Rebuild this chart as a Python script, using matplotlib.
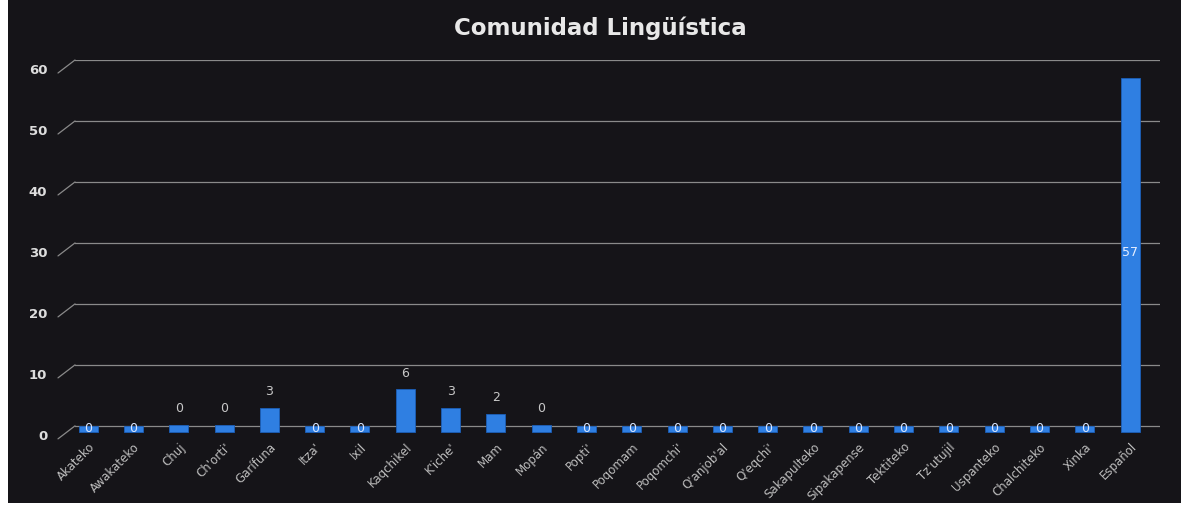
import matplotlib.pyplot as plt
from matplotlib.patches import Rectangle
from matplotlib.transforms import offset_copy

# data
languages = ["Akateko", "Awakateko", "Chuj", "Ch'orti'", "Garífuna", "Itza'", "Ixil",
             "Kaqchikel", "K'iche'", "Mam", "Mopán", "Popti'", "Poqomam", "Poqomchi'",
             "Q'anjob'al", "Q'eqchi'", "Sakapulteko", "Sipakapense", "Tektiteko",
             "Tz'utujil", "Uspanteko", "Chalchiteko", "Xinka", "Español"]
values = [0, 0, 0.2, 0.2, 3, 0, 0, 6, 3, 2, 0.2, 0, 0, 0, 0, 0, 0, 0, 0, 0, 0, 0, 0, 57]
y_ticks = [0, 10, 20, 30, 40, 50, 60]

BG = "#151418"
BAR = "#2f7fe2"
TXT = "#c8c8c8"
FLOOR = -1.0  # 3d floor sits a little under the zero line

fig = plt.figure(figsize=(11.81, 5.08), dpi=100, facecolor="white")
fig.patches.append(Rectangle((8 / 1181, 5 / 508), 1 - 8 / 1181, 1 - 5 / 508,
                             transform=fig.transFigure, facecolor=BG, edgecolor="none", zorder=-10))

ax = fig.add_axes([75 / 1181, (508 - 435) / 508, (1160 - 75) / 1181, (435 - 60) / 508])
ax.set_facecolor("none")

x = list(range(len(languages)))
heights = [v - FLOOR for v in values]
ax.bar(x, heights, bottom=FLOOR, width=0.42, color=BAR, edgecolor="#1c5fb8", linewidth=0.6, zorder=3)

for xi, v in zip(x, values):
    if v == 0:
        ax.text(xi, FLOOR / 2, "0", color="#d9e6ff", fontsize=9, ha="center", va="center", zorder=4)
    elif v > 30:
        ax.text(xi, v / 2, f"{v:.0f}", color="#e6eeff", fontsize=9, ha="center", va="center", zorder=4)
    else:
        ax.annotate(f"{v:.0f}", (xi, v), xytext=(0, 7), textcoords="offset points",
                    color=TXT, fontsize=9, ha="center", va="bottom", zorder=4)

ax.set_xlim(-0.29, 23.66)
ax.set_ylim(-1.5, 60)
ax.set_yticks(y_ticks)
ax.set_yticklabels([str(t) for t in y_ticks], color="#dddddd", fontsize=9.5, fontweight="bold")
ax.yaxis.grid(True, color="#8a8a8a", linewidth=0.9)
ax.set_axisbelow(True)
ax.tick_params(axis="y", length=0, pad=20)
ax.tick_params(axis="x", length=0, pad=4)
ax.set_xticks(x)
ax.set_xticklabels(languages, rotation=45, ha="right", rotation_mode="anchor",
                   color="#bdbdbd", fontsize=8.5)
for s in ax.spines.values():
    s.set_visible(False)

# 3d look: tick labels sit a bit under the back wall lines, joined by a short slant
for lab in ax.get_yticklabels():
    lab.set_transform(offset_copy(lab.get_transform(), fig=fig, x=0, y=-9, units="dots"))
for t in y_ticks:
    base = offset_copy(ax.get_yaxis_transform(), fig=fig, x=-17, y=-13, units="dots")
    ax.plot([0, 0], [t, t], alpha=0)  # keep autoscale untouched
    ax.annotate("", xy=(0, t), xycoords=ax.get_yaxis_transform(),
                xytext=(0, t), textcoords=base,
                arrowprops=dict(arrowstyle="-", color="#8a8a8a", lw=0.9, shrinkA=0, shrinkB=0))

fig.text(0.508, 0.945, "Comunidad Lingüística", color="#e8e8e8", fontsize=16.5,
         fontweight="bold", ha="center", va="center")

fig.savefig("out.png", dpi=100, facecolor=fig.get_facecolor())
